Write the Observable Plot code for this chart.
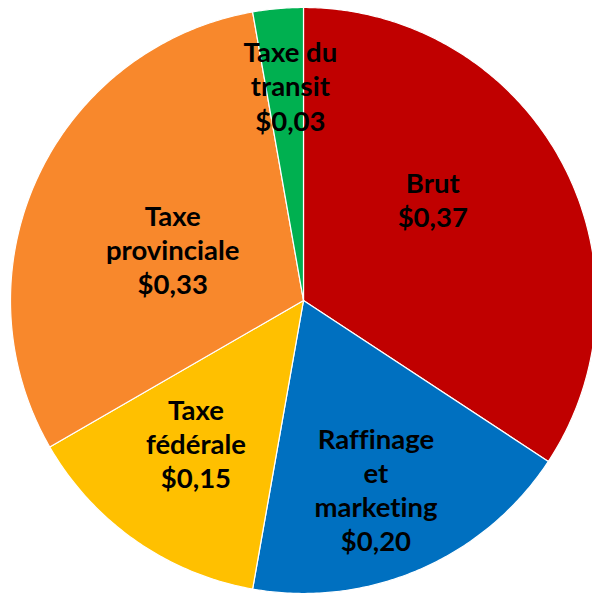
<!DOCTYPE html>
<html>
<head>
<meta charset="utf-8">
<script src="https://cdn.jsdelivr.net/npm/d3@7"></script>
<script src="https://cdn.jsdelivr.net/npm/@observablehq/plot@0.6"></script>
<style>
  html, body { margin: 0; padding: 0; background: #fff; }
  #chart svg { display: block; }
  #chart svg text { font-variant-ligatures: none; font-feature-settings: "liga" 0; }
</style>
</head>
<body>
<div id="chart"></div>
<script>
// Data
const categories = ["Brut", "Raffinage et marketing", "Taxe fédérale", "Taxe provinciale", "Taxe du transit"];
const labelNames = ["Brut", "Raffinage\net\nmarketing", "Taxe\nfédérale", "Taxe\nprovinciale", "Taxe du\ntransit"];
const values = [0.37, 0.20, 0.15, 0.33, 0.03];
const colors = ["#C00000", "#0070C0", "#FFC000", "#F8882C", "#00B050"];

// Layout (label placement in polar terms: radius fraction, angle in degrees clockwise from top)
const labelRadius = [0.56, 0.69, 0.61, 0.48, 0.735];
const labelAngle = [52, 159, 217, 291.6, 356.5];

const fmt = v => "$" + v.toFixed(2).replace(".", ",");

const arcs = d3.pie().sort(null).startAngle(0).endAngle(2 * Math.PI)(values);

// Build slice polygons (in unit-circle coordinates, y up)
const slicePts = [];
arcs.forEach((a, i) => {
  const cat = categories[i];
  slicePts.push({cat, x: 0, y: 0});
  const n = Math.max(4, Math.ceil((a.endAngle - a.startAngle) / 0.01));
  for (let k = 0; k <= n; k++) {
    const t = a.startAngle + (a.endAngle - a.startAngle) * k / n;
    slicePts.push({cat, x: Math.sin(t), y: Math.cos(t)});
  }
  slicePts.push({cat, x: 0, y: 0});
});

const labels = categories.map((c, i) => {
  const t = labelAngle[i] * Math.PI / 180;
  return {
    cat: c,
    text: labelNames[i] + "\n" + fmt(values[i]),
    x: labelRadius[i] * Math.sin(t),
    y: labelRadius[i] * Math.cos(t)
  };
});

const chart = Plot.plot({
  width: 592,
  height: 593,
  margin: 0,
  x: {domain: [-1, 1], range: [10, 596], axis: null},
  y: {domain: [1, -1], range: [7, 593], axis: null},
  color: {domain: categories, range: colors},
  style: {background: "#fff"},
  marks: [
    Plot.line(slicePts, {
      x: "x", y: "y", z: "cat",
      fill: "cat",
      stroke: "#fff",
      strokeWidth: 1.2,
      strokeLinejoin: "round"
    }),
    Plot.text(labels, {
      x: "x", y: "y", text: "text",
      fill: "#000",
      fontSize: 27.5,
      fontWeight: "bold",
      fontFamily: "Lato",
      lineHeight: 1.24
    })
  ]
});

document.getElementById("chart").appendChild(chart);
</script>
</body>
</html>
